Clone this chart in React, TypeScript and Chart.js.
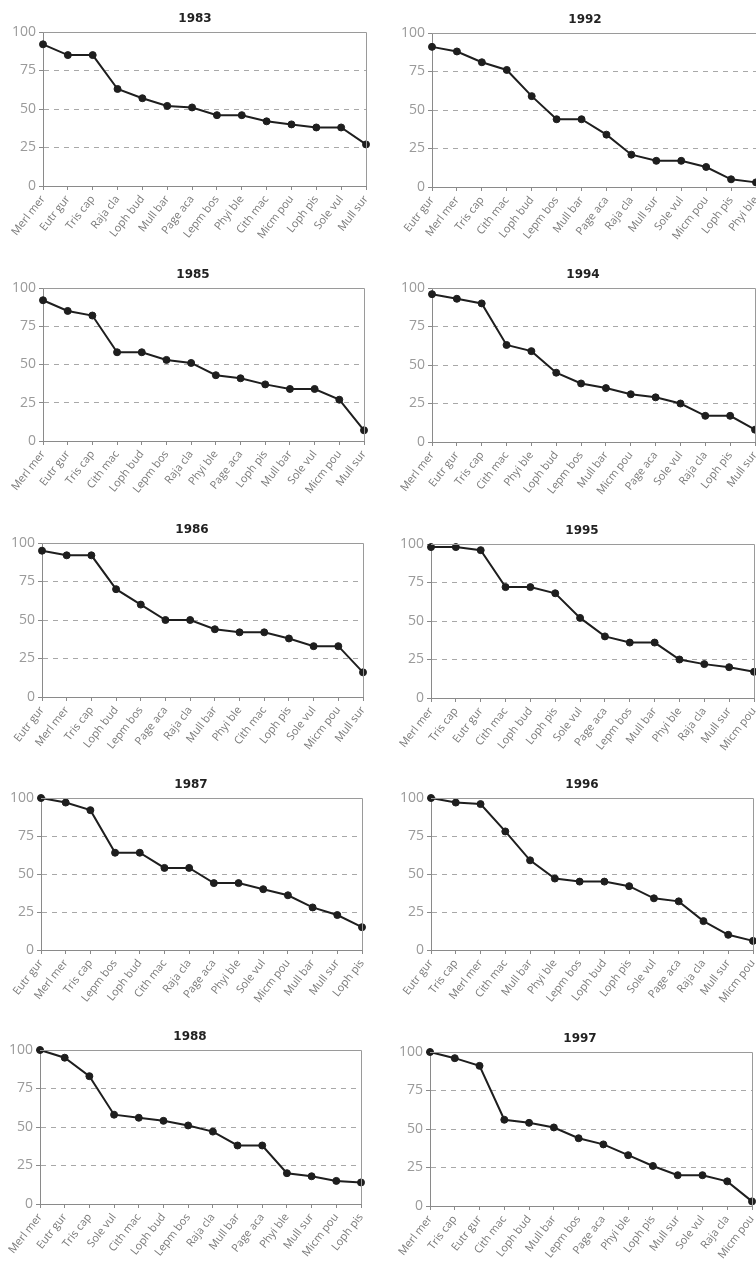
import React, { useEffect, useRef } from "react";
import { Chart, registerables } from "chart.js";

Chart.register(...registerables);

// ---- Data ----
const labels1983 = ["Merl mer", "Eutr gur", "Tris cap", "Raja cla", "Loph bud", "Mull bar", "Page aca", "Lepm bos", "Phyi ble", "Cith mac", "Micm pou", "Loph pis", "Sole vul", "Mull sur"];
const values1983 = [92, 85, 85, 63, 57, 52, 51, 46, 46, 42, 40, 38, 38, 27];

const labels1992 = ["Eutr gur", "Merl mer", "Tris cap", "Cith mac", "Loph bud", "Lepm bos", "Mull bar", "Page aca", "Raja cla", "Mull sur", "Sole vul", "Micm pou", "Loph pis", "Phyi ble"];
const values1992 = [91, 88, 81, 76, 59, 44, 44, 34, 21, 17, 17, 13, 5, 3];

const labels1985 = ["Merl mer", "Eutr gur", "Tris cap", "Cith mac", "Loph bud", "Lepm bos", "Raja cla", "Phyi ble", "Page aca", "Loph pis", "Mull bar", "Sole vul", "Micm pou", "Mull sur"];
const values1985 = [92, 85, 82, 58, 58, 53, 51, 43, 41, 37, 34, 34, 27, 7];

const labels1994 = ["Merl mer", "Eutr gur", "Tris cap", "Cith mac", "Phyi ble", "Loph bud", "Lepm bos", "Mull bar", "Micm pou", "Page aca", "Sole vul", "Raja cla", "Loph pis", "Mull sur"];
const values1994 = [96, 93, 90, 63, 59, 45, 38, 35, 31, 29, 25, 17, 17, 8];

const labels1986 = ["Eutr gur", "Merl mer", "Tris cap", "Loph bud", "Lepm bos", "Page aca", "Raja cla", "Mull bar", "Phyi ble", "Cith mac", "Loph pis", "Sole vul", "Micm pou", "Mull sur"];
const values1986 = [95, 92, 92, 70, 60, 50, 50, 44, 42, 42, 38, 33, 33, 16];

const labels1995 = ["Merl mer", "Tris cap", "Eutr gur", "Cith mac", "Loph bud", "Loph pis", "Sole vul", "Page aca", "Lepm bos", "Mull bar", "Phyi ble", "Raja cla", "Mull sur", "Micm pou"];
const values1995 = [98, 98, 96, 72, 72, 68, 52, 40, 36, 36, 25, 22, 20, 17];

const labels1987 = ["Eutr gur", "Merl mer", "Tris cap", "Lepm bos", "Loph bud", "Cith mac", "Raja cla", "Page aca", "Phyi ble", "Sole vul", "Micm pou", "Mull bar", "Mull sur", "Loph pis"];
const values1987 = [100, 97, 92, 64, 64, 54, 54, 44, 44, 40, 36, 28, 23, 15];

const labels1996 = ["Eutr gur", "Tris cap", "Merl mer", "Cith mac", "Mull bar", "Phyi ble", "Lepm bos", "Loph bud", "Loph pis", "Sole vul", "Page aca", "Raja cla", "Mull sur", "Micm pou"];
const values1996 = [100, 97, 96, 78, 59, 47, 45, 45, 42, 34, 32, 19, 10, 6];

const labels1988 = ["Merl mer", "Eutr gur", "Tris cap", "Sole vul", "Cith mac", "Loph bud", "Lepm bos", "Raja cla", "Mull bar", "Page aca", "Phyi ble", "Mull sur", "Micm pou", "Loph pis"];
const values1988 = [100, 95, 83, 58, 56, 54, 51, 47, 38, 38, 20, 18, 15, 14];

const labels1997 = ["Merl mer", "Tris cap", "Eutr gur", "Cith mac", "Loph bud", "Mull bar", "Lepm bos", "Page aca", "Phyi ble", "Loph pis", "Mull sur", "Sole vul", "Raja cla", "Micm pou"];
const values1997 = [100, 96, 91, 56, 54, 51, 44, 40, 33, 26, 20, 20, 16, 3];

const yTicks = [0, 25, 50, 75, 100];

// ---- Layout (pixel geometry of each panel's plot area) ----
type Panel = {
  year: string; labels: string[]; values: number[]; col: number;
  plotLeft: number; plotRight: number; plotTop: number; plotBottom: number; titleX: number;
};

const PANELS: Panel[] = [
  { year: "1983", labels: labels1983, values: values1983, col: 0, plotLeft: 43, plotRight: 366, plotTop: 32, plotBottom: 186, titleX: 195 },
  { year: "1992", labels: labels1992, values: values1992, col: 1, plotLeft: 432, plotRight: 756, plotTop: 33, plotBottom: 187, titleX: 585 },
  { year: "1985", labels: labels1985, values: values1985, col: 0, plotLeft: 43, plotRight: 364, plotTop: 288, plotBottom: 441, titleX: 193 },
  { year: "1994", labels: labels1994, values: values1994, col: 1, plotLeft: 432, plotRight: 755, plotTop: 288, plotBottom: 442, titleX: 583 },
  { year: "1986", labels: labels1986, values: values1986, col: 0, plotLeft: 42, plotRight: 363, plotTop: 543, plotBottom: 697, titleX: 192 },
  { year: "1995", labels: labels1995, values: values1995, col: 1, plotLeft: 431, plotRight: 754, plotTop: 544, plotBottom: 698, titleX: 582 },
  { year: "1987", labels: labels1987, values: values1987, col: 0, plotLeft: 41, plotRight: 362, plotTop: 798, plotBottom: 950, titleX: 191 },
  { year: "1996", labels: labels1996, values: values1996, col: 1, plotLeft: 431, plotRight: 753, plotTop: 798, plotBottom: 950, titleX: 582 },
  { year: "1988", labels: labels1988, values: values1988, col: 0, plotLeft: 40, plotRight: 361, plotTop: 1050, plotBottom: 1204, titleX: 190 },
  { year: "1997", labels: labels1997, values: values1997, col: 1, plotLeft: 430, plotRight: 752, plotTop: 1052, plotBottom: 1206, titleX: 580 },
];

const TITLE_H = 21; // 16px line + 5px bottom padding
const XAXIS_H = 62;
const PAD_R = 4;
const Y_W = 38;

const frame = {
  id: "frame",
  afterDatasetsDraw(chart: any) {
    const { ctx, chartArea } = chart;
    ctx.save();
    ctx.strokeStyle = "#9a9a9a";
    ctx.lineWidth = 1;
    ctx.beginPath();
    ctx.moveTo(chartArea.left, chartArea.top + 0.5);
    ctx.lineTo(chartArea.right + 0.5, chartArea.top + 0.5);
    ctx.lineTo(chartArea.right + 0.5, chartArea.bottom);
    ctx.stroke();
    ctx.restore();
  },
};

function PanelChart({ p }: { p: Panel }) {
  const ref = useRef<HTMLCanvasElement | null>(null);
  const canvasLeft = p.col * 378;
  // right spacer width so that the full-width title centres at titleX
  const wr = Math.max(12, 2 * p.titleX - p.plotLeft - p.plotRight + Y_W);
  const padL = p.plotLeft - Y_W - canvasLeft;
  const width = p.plotRight - canvasLeft + wr + PAD_R;
  const plotH = p.plotBottom - p.plotTop;
  const height = TITLE_H + plotH + XAXIS_H;
  const top = p.plotTop - TITLE_H;

  useEffect(() => {
    if (!ref.current) return;
    const chart = new Chart(ref.current, {
      type: "line",
      data: {
        labels: p.labels,
        datasets: [
          {
            data: p.values,
            borderColor: "#1e1e1e",
            borderWidth: 2,
            pointRadius: 3.5,
            pointBackgroundColor: "#1e1e1e",
            pointBorderColor: "#1e1e1e",
            pointBorderWidth: 1,
            tension: 0,
            clip: false as any,
          },
        ],
      },
      options: {
        animation: false,
        responsive: false,
        maintainAspectRatio: false,
        layout: { padding: { left: padL, right: PAD_R, top: 0, bottom: 0 } },
        plugins: {
          legend: { display: false },
          tooltip: { enabled: false },
          title: {
            display: true,
            text: p.year,
            color: "#222",
            font: { family: "'DejaVu Sans', sans-serif", size: 12, weight: "bold", lineHeight: "16px" as any },
            padding: { top: 0, bottom: 5 },
          },
        },
        scales: {
          x: {
            type: "category",
            offset: false,
            afterFit: (s: any) => { s.height = XAXIS_H; },
            grid: {
              display: true,
              drawOnChartArea: false,
              drawTicks: true,
              tickLength: 4,
              tickColor: "#8a8a8a",
              color: "#8a8a8a",
            },
            border: { display: true, color: "#8a8a8a", width: 1 },
            ticks: {
              autoSkip: false,
              maxRotation: 52,
              minRotation: 52,
              padding: 3,
              color: "#7a7a7a",
              font: { family: "'Open Sans', 'DejaVu Sans', sans-serif", size: 11 },
            },
          },
          y: {
            min: 0,
            max: 100,
            afterFit: (s: any) => { s.width = Y_W; },
            afterBuildTicks: (s: any) => { s.ticks = yTicks.map((v) => ({ value: v })); },
            grid: {
              display: true,
              drawTicks: true,
              tickLength: 4,
              tickColor: "#8a8a8a",
              tickBorderDash: [],
              lineWidth: 1,
              color: (c: any) => (c.tick && c.tick.value > 0 && c.tick.value < 100 ? "#a8a8a8" : "rgba(0,0,0,0)"),
            },
            border: { display: true, color: "#8a8a8a", width: 1, dash: [5, 5] },
            ticks: {
              padding: 3,
              color: "#9a9a9a",
              font: { family: "'Open Sans', 'DejaVu Sans', sans-serif", size: 14 },
            },
          },
          spacer: {
            type: "linear",
            position: "right",
            display: true,
            afterFit: (s: any) => { s.width = wr; },
            grid: { display: false, drawTicks: false },
            border: { display: false },
            ticks: { display: false },
          },
        },
      },
      plugins: [frame],
    });
    return () => chart.destroy();
  }, []);

  return (
    <canvas
      ref={ref}
      width={width}
      height={height}
      style={{ position: "absolute", left: canvasLeft, top, width, height }}
    />
  );
}

export default function App() {
  return (
    <div
      style={{
        position: "absolute",
        left: 0,
        top: 0,
        width: 756,
        height: 1263,
        overflow: "hidden",
        background: "#fff",
      }}
    >
      {PANELS.map((p) => (
        <PanelChart key={p.year} p={p} />
      ))}
    </div>
  );
}
